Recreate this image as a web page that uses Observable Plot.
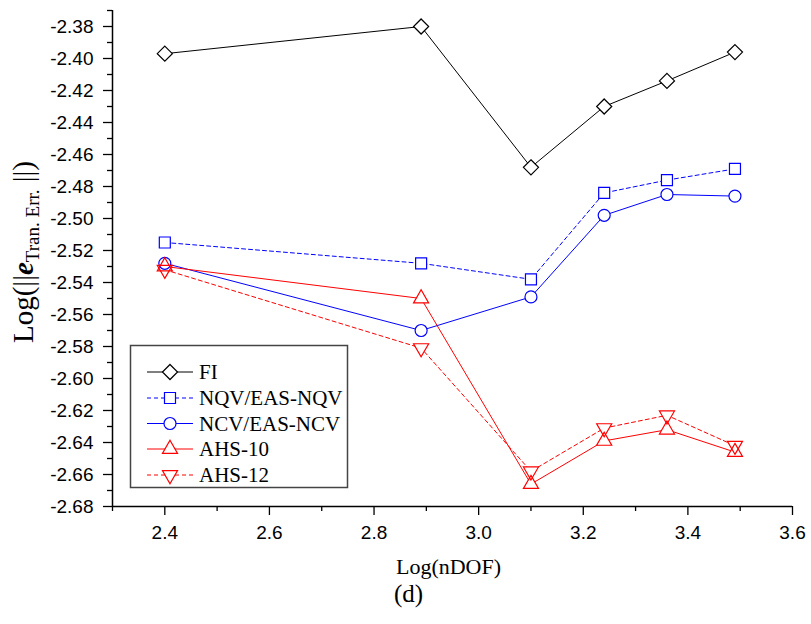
<!DOCTYPE html>
<html><head><meta charset="utf-8">
<script src="https://cdn.jsdelivr.net/npm/d3@7"></script>
<script src="https://cdn.jsdelivr.net/npm/@observablehq/plot@0.6"></script>
<style>body{margin:0;background:#fff}</style>
</head><body><div id="chart"></div>
<script>
// ---- data ----
const xs = [2.40, 2.89, 3.10, 3.24, 3.36, 3.49];
const fi = [-2.397, -2.380, -2.468, -2.430, -2.414, -2.396];
const nqv = [-2.515, -2.528, -2.538, -2.484, -2.476, -2.469];
const ncv = [-2.528, -2.570, -2.549, -2.498, -2.485, -2.486];
const ahs10 = [-2.530, -2.550, -2.666, -2.639, -2.632, -2.646];
const ahs12 = [-2.532, -2.581, -2.658, -2.631, -2.623, -2.642];
const seriesNames = ["FI", "NQV/EAS-NQV", "NCV/EAS-NCV", "AHS-10", "AHS-12"];

const xTicks = [2.4, 2.6, 2.8, 3.0, 3.2, 3.4, 3.6];
const xMinor = [2.3, 2.5, 2.7, 2.9, 3.1, 3.3, 3.5];
const yTicks = [-2.38, -2.40, -2.42, -2.44, -2.46, -2.48, -2.50, -2.52, -2.54, -2.56, -2.58, -2.60, -2.62, -2.64, -2.66, -2.68];
const yMinor = [-2.37, -2.39, -2.41, -2.43, -2.45, -2.47, -2.49, -2.51, -2.53, -2.55, -2.57, -2.59, -2.61, -2.63, -2.65, -2.67];

// ---- styles ----
const colors = ["#000000", "#0000ff", "#0000ff", "#ff0000", "#ff0000"];
const dashes = [undefined, "4,3", undefined, undefined, "4,3"];
const triangleDown = {
  draw(ctx, size) {
    const s = Math.sqrt(size) * 0.6824, t = s / 2, u = s * Math.sqrt(3) / 2;
    ctx.moveTo(0, s); ctx.lineTo(u, -t); ctx.lineTo(-u, -t); ctx.closePath();
  }
};
const symbols = ["diamond2", "square2", "circle", "triangle2", triangleDown];
const d3Symbols = [d3.symbolDiamond2, d3.symbolSquare2, d3.symbolCircle, d3.symbolTriangle2, triangleDown];
const radii = [6.8, 7.0, 6.0, 7.2, 7.2];

const seriesData = [fi, nqv, ncv, ahs10, ahs12].map(vals => xs.map((x, i) => ({x, y: vals[i]})));

const tickFont = "'Liberation Sans', Arial, sans-serif";
const serif = "'Liberation Serif', 'Times New Roman', serif";

const plot = Plot.plot({
  width: 811, height: 624,
  marginTop: 10, marginBottom: 118, marginLeft: 112, marginRight: 19,
  style: {background: "white", color: "black", fontFamily: tickFont},
  x: {domain: [2.3, 3.6]},
  y: {domain: [-2.68, -2.37]},
  marks: [
    Plot.axisY(yMinor, {tickSize: 5, tickFormat: () => "", label: null, strokeWidth: 1.3}),
    Plot.axisY(yTicks, {tickSize: 9, tickPadding: 10, tickFormat: d => d.toFixed(2), fontSize: 19, fontFamily: tickFont, label: null, strokeWidth: 1.3}),
    Plot.axisX(xMinor, {tickSize: 5, tickFormat: () => "", label: null, strokeWidth: 1.3}),
    Plot.axisX(xTicks, {tickSize: 9, tickPadding: 10, tickFormat: d => d.toFixed(1), fontSize: 19, fontFamily: tickFont, label: null, strokeWidth: 1.3}),
    Plot.ruleX([2.3], {strokeWidth: 1.5}),
    Plot.ruleY([-2.68], {strokeWidth: 1.5}),
    ...seriesData.map((d, k) => Plot.line(d, {x: "x", y: "y", stroke: colors[k], strokeWidth: 1, strokeDasharray: dashes[k]})),
    ...seriesData.map((d, k) => Plot.dot(d, {x: "x", y: "y", symbol: symbols[k], r: radii[k], fill: "white", stroke: "none"})),
    ...seriesData.map((d, k) => Plot.dot(d, {x: "x", y: "y", symbol: symbols[k], r: radii[k], fill: "none", stroke: colors[k], strokeWidth: 1.2})),
    Plot.text(["Log(nDOF)"], {text: d => d, frameAnchor: "bottom", dy: 67, dx: -4, fontSize: 22, fontFamily: serif}),
    Plot.text(["(d)"], {text: d => d, frameAnchor: "bottom", dy: 95, dx: -44, fontSize: 25, fontFamily: serif})
  ]
});
document.getElementById("chart").appendChild(plot);

// ---- y-axis label with subscript ----
const svg = d3.select(plot);
const yl = svg.append("text")
  .attr("transform", "translate(33,252) rotate(-90)")
  .attr("text-anchor", "middle")
  .attr("font-family", serif)
  .attr("font-size", 29)
  .attr("fill", "black");
yl.append("tspan").text("Log(||");
yl.append("tspan").attr("font-weight", "bold").attr("font-style", "italic").text("e");
yl.append("tspan").attr("font-size", 19).attr("dy", 6).text("Tran. Err.");
yl.append("tspan").attr("dy", -6).text(" ||)");

// ---- legend ----
const lg = svg.append("g").attr("text-anchor", "start");
lg.append("rect").attr("x", 130.5).attr("y", 345.5).attr("width", 217).attr("height", 142)
  .attr("fill", "white").attr("stroke", "#444").attr("stroke-width", 1.5);
const rowY = [372, 398, 423.5, 449, 475];
seriesNames.forEach((name, k) => {
  const g = lg.append("g").attr("transform", `translate(0,${rowY[k]})`);
  g.append("line").attr("x1", 147).attr("x2", 193).attr("y1", 0).attr("y2", 0)
    .attr("stroke", colors[k]).attr("stroke-width", 1).attr("stroke-dasharray", dashes[k] || null);
  g.append("path").attr("transform", "translate(170,0)")
    .attr("d", d3.symbol(d3Symbols[k], Math.PI * radii[k] * radii[k])())
    .attr("fill", "white").attr("stroke", colors[k]).attr("stroke-width", 1.2);
  g.append("text").attr("x", 199).attr("y", 7).attr("text-anchor", "start")
    .attr("font-family", serif).attr("font-size", 21)
    .attr("fill", "black").text(name);
});
</script>
</body></html>
